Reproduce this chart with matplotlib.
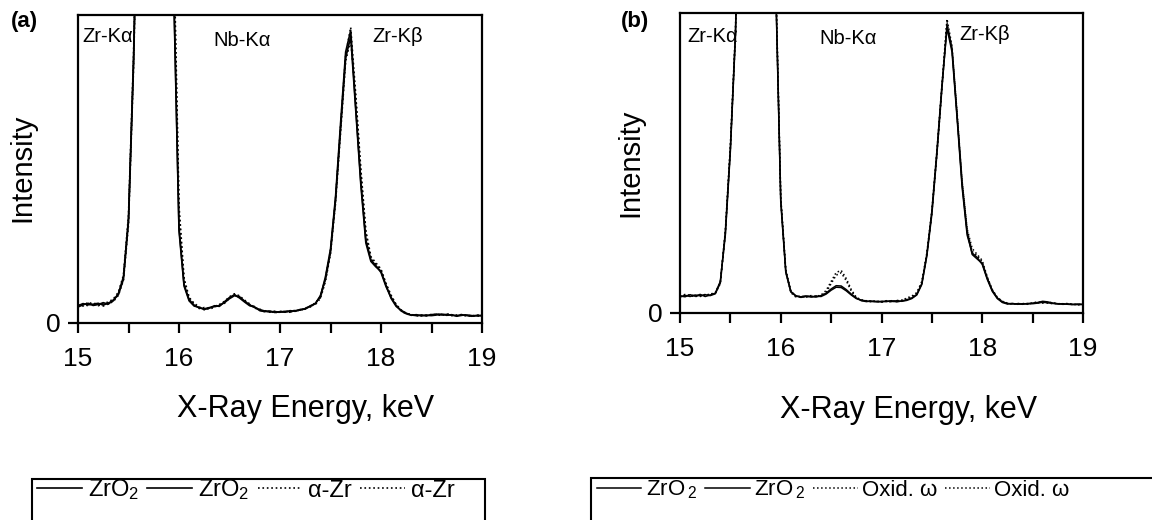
import numpy as np
import matplotlib
matplotlib.use("Agg")
import matplotlib.pyplot as plt
from matplotlib.patches import Rectangle

plt.rcParams['font.family'] = ['Liberation Sans', 'DejaVu Sans']
plt.rcParams['mathtext.fontset'] = 'custom'
plt.rcParams['mathtext.rm'] = 'Liberation Sans'
plt.rcParams['mathtext.it'] = 'Liberation Sans:italic'
plt.rcParams['mathtext.bf'] = 'Liberation Sans:bold'

# ---------------- data ----------------
energy = np.round(np.linspace(15.0, 19.0, 81), 2)   # keV, 0.05 keV steps
x_ticks = [15, 15.5, 16, 16.5, 17, 17.5, 18, 18.5, 19]
x_ticklabels = ['15', '', '16', '', '17', '', '18', '', '19']

# panel (a)
a_zro2_1 = [5.6, 6.3, 5.9, 6.1, 6.4, 5.8, 6.5, 7.2, 9.6, 15.0,
            34, 86, 160, 230, 285, 300, 290, 250, 185, 106,
            31, 12.5, 7.6, 5.8, 4.9, 4.6, 5.0, 5.3, 5.7, 6.6,
            7.9, 8.9, 8.4, 7.1, 5.9, 5.0, 4.3, 3.9, 3.6, 3.7,
            3.5, 3.8, 3.7, 4.0, 4.2, 4.7, 5.4, 6.4, 8.6, 15.0,
            24, 41, 65, 88, 95, 70, 46, 27, 20.5, 18.6,
            16.4, 11.8, 8.3, 5.7, 3.9, 3.0, 2.6, 2.4, 2.6, 2.3,
            2.7, 2.9, 2.6, 2.8, 2.5, 2.4, 2.7, 2.4, 2.2, 2.5,
            2.3]
a_zro2_2 = [5.2, 5.9, 6.4, 5.7, 6.0, 6.6, 6.1, 7.5, 9.2, 14.2,
            33, 84, 158, 228, 282, 298, 288, 248, 182, 104,
            30, 12.0, 7.2, 5.5, 5.1, 4.4, 4.8, 5.6, 5.4, 6.9,
            8.3, 9.2, 8.1, 6.8, 5.6, 5.2, 4.0, 3.7, 3.9, 3.4,
            3.7, 3.5, 4.0, 3.8, 4.4, 4.5, 5.6, 6.2, 8.9, 14.2,
            23, 40, 63, 86, 93, 69, 45, 26, 20.0, 18.2,
            16.8, 12.2, 8.0, 5.4, 4.1, 3.2, 2.5, 2.7, 2.3, 2.6,
            2.4, 2.6, 2.9, 2.5, 2.7, 2.2, 2.5, 2.6, 2.4, 2.3,
            2.5]
a_azr_1 = [6.0, 5.5, 6.7, 6.2, 5.6, 6.3, 6.8, 7.8, 10.0, 15.5,
           35, 87, 162, 232, 287, 302, 295, 258, 195, 120,
           38, 14.5, 8.4, 6.1, 4.7, 5.0, 4.5, 5.1, 6.0, 7.0,
           8.5, 9.5, 8.8, 7.4, 6.2, 4.8, 4.5, 3.6, 3.8, 3.3,
           3.8, 3.6, 3.5, 4.2, 4.0, 4.9, 5.2, 6.6, 8.2, 14.5,
           23.5, 40, 64, 87, 96, 74, 50, 30, 21.5, 19.5,
           17.5, 12.8, 9.0, 6.0, 4.2, 3.1, 2.8, 2.3, 2.5, 2.4,
           2.8, 2.6, 2.5, 3.0, 2.6, 2.3, 2.8, 2.5, 2.1, 2.6,
           2.4]
a_azr_2 = [5.4, 6.1, 5.6, 6.5, 6.0, 5.5, 6.2, 7.0, 9.0, 14.0,
           32, 83, 155, 225, 280, 296, 292, 255, 190, 115,
           36, 13.8, 8.0, 6.4, 5.2, 4.3, 4.9, 5.4, 5.9, 6.4,
           8.1, 9.0, 8.6, 7.0, 6.0, 5.3, 4.1, 4.0, 3.5, 3.8,
           3.4, 3.9, 3.6, 3.9, 4.3, 4.6, 5.5, 6.0, 8.0, 13.5,
           22.5, 39, 62, 85, 92, 73, 49, 29, 21.0, 19.0,
           17.0, 12.5, 8.7, 5.9, 4.0, 2.9, 2.7, 2.5, 2.4, 2.5,
           2.5, 2.8, 2.7, 2.6, 2.4, 2.6, 2.5, 2.3, 2.5, 2.2,
           2.4]

# panel (b)
b_zro2_1 = [5.3, 5.9, 5.5, 6.0, 5.7, 6.1, 5.8, 6.4, 10.0, 27,
            55, 93, 160, 230, 285, 300, 290, 250, 185, 110,
            38, 14, 7.2, 5.6, 5.4, 5.7, 5.3, 5.6, 5.5, 6.3,
            7.6, 8.6, 8.5, 7.4, 6.0, 4.8, 4.3, 4.0, 3.8, 3.9,
            3.7, 4.0, 3.8, 4.1, 3.9, 4.2, 4.8, 6.0, 9.5, 19,
            33, 53, 75, 96, 88, 66, 43, 27, 19.5, 18.0,
            16.5, 11.5, 7.5, 5.0, 3.7, 3.2, 3.0, 3.1, 2.9, 3.2,
            3.1, 3.3, 3.6, 3.4, 3.2, 3.0, 3.1, 2.9, 2.8, 3.0,
            2.8]
b_zro2_2 = [5.7, 5.4, 6.1, 5.6, 6.2, 5.5, 6.0, 6.6, 10.5, 26,
            54, 92, 158, 228, 283, 298, 288, 248, 183, 109,
            37, 13.5, 7.0, 5.8, 5.2, 5.5, 5.6, 5.3, 5.8, 6.6,
            8.0, 9.1, 9.0, 7.8, 6.3, 5.0, 4.1, 3.8, 4.0, 3.7,
            3.9, 3.8, 4.1, 3.7, 4.0, 4.4, 5.0, 6.2, 9.8, 19.5,
            34, 54, 76, 95, 87, 65, 42, 26, 20.0, 18.5,
            16.2, 11.2, 7.2, 4.8, 3.5, 3.0, 3.2, 2.9, 3.1, 3.0,
            3.3, 3.5, 3.9, 3.7, 3.3, 3.1, 2.9, 3.0, 2.9, 2.8,
            2.9]
b_oxid_1 = [5.5, 6.2, 5.8, 5.4, 6.0, 5.9, 6.3, 6.8, 10.2, 27.5,
            56, 94, 162, 232, 288, 302, 292, 252, 188, 112,
            38.5, 14.5, 6.8, 5.3, 5.7, 5.2, 5.8, 5.5, 6.0, 7.5,
            10.5, 13.5, 14.2, 11.5, 7.8, 5.2, 4.4, 3.9, 4.1, 3.8,
            3.8, 4.1, 3.6, 4.2, 4.1, 5.0, 5.6, 6.8, 10.5, 20,
            34, 54, 76, 98, 89, 66, 44, 28, 21.5, 19.5,
            17.5, 12.0, 7.8, 5.2, 3.9, 3.3, 2.9, 3.2, 3.0, 3.1,
            3.2, 3.4, 3.3, 3.6, 3.4, 3.1, 3.0, 3.2, 2.9, 2.7,
            2.9]
b_oxid_2 = [5.6, 5.8, 6.0, 5.7, 5.5, 6.2, 6.1, 6.5, 9.8, 26.5,
            55, 92, 159, 229, 284, 299, 291, 251, 186, 111,
            38, 13.8, 7.5, 5.5, 5.3, 5.6, 5.4, 5.7, 5.6, 6.8,
            9.8, 12.6, 13.4, 10.8, 7.3, 5.0, 4.2, 4.1, 3.7, 4.0,
            3.6, 3.9, 4.0, 3.8, 4.3, 4.6, 5.3, 6.5, 10.0, 19.5,
            33.5, 53, 75, 97, 88, 67, 44, 27.5, 20.5, 19.0,
            17.0, 11.8, 7.6, 5.1, 3.8, 3.1, 3.1, 3.0, 3.2, 2.9,
            3.4, 3.7, 3.5, 3.3, 3.1, 3.2, 2.9, 3.0, 2.8, 2.9,
            2.8]

labels_a = ['ZrO$_{\\rm 2}$', 'ZrO$_{\\rm 2}$', 'α-Zr', 'α-Zr']
labels_b = ['ZrO$\\,_{\\rm 2}$', 'ZrO$\\,_{\\rm 2}$', 'Oxid. ω', 'Oxid. ω']
peak_labels = ['Zr-Kα', 'Nb-Kα', 'Zr-Kβ']

# ---------------- figure ----------------
W, H = 1152, 520
fig = plt.figure(figsize=(W / 100, H / 100), dpi=100)


def fx(px):
    return px / W


def fy(py):
    return 1 - py / H


def make_axes(left, top, right, bottom):
    return fig.add_axes([fx(left), fy(bottom), fx(right - left), (bottom - top) / H])


def style(ax):
    ax.set_xlim(15, 19)
    ax.set_ylim(0, 100)
    for s in ax.spines.values():
        s.set_linewidth(1.6)
        s.set_color('black')
    ax.set_xticks(x_ticks)
    ax.set_xticklabels(x_ticklabels)
    ax.set_yticks([0])
    ax.set_yticklabels(['0'])
    ax.tick_params(axis='x', direction='out', length=7, width=1.6, pad=10, labelsize=19)
    ax.tick_params(axis='y', direction='out', length=7.5, width=1.6, pad=5, labelsize=19)


series_a = [(a_zro2_1, '-'), (a_zro2_2, '-'), (a_azr_1, ':'), (a_azr_2, ':')]
series_b = [(b_zro2_1, '-'), (b_zro2_2, '-'), (b_oxid_1, ':'), (b_oxid_2, ':')]

ax_a = make_axes(78, 15, 482, 323)
ax_b = make_axes(680, 13, 1083, 313)

handles_a = []
for vals, ls in series_a:
    ln, = ax_a.plot(energy, vals, color='black', lw=1.2, ls=ls)
    handles_a.append(ln)
handles_b = []
for vals, ls in series_b:
    ln, = ax_b.plot(energy, vals, color='black', lw=1.1, ls=ls)
    handles_b.append(ln)

style(ax_a)
style(ax_b)

# y labels
fig.text(fx(22), fy(168), 'Intensity', rotation=90, ha='center', va='center', fontsize=21)
fig.text(fx(630), fy(163), 'Intensity', rotation=90, ha='center', va='center', fontsize=21)

# x labels
fig.text(fx(306), fy(417), 'X-Ray Energy, keV', ha='center', va='baseline', fontsize=22)
fig.text(fx(909), fy(418), 'X-Ray Energy, keV', ha='center', va='baseline', fontsize=22)

# panel letters
fig.text(fx(11), fy(22), '(a)', fontsize=16, fontweight='bold', ha='left', va='center')
fig.text(fx(621), fy(22), '(b)', fontsize=16, fontweight='bold', ha='left', va='center')

# peak annotations
for (px, py), t in zip([(82, 37), (213, 40), (372, 36)], peak_labels):
    fig.text(fx(px), fy(py), t, fontsize=14.5, ha='left', va='center')
for (px, py), t in zip([(687, 36), (819, 38), (959, 35)], peak_labels):
    fig.text(fx(px), fy(py), t, fontsize=14.5, ha='left', va='center')

# legends
fig.legend(handles_a, labels_a, ncol=4, frameon=False, fontsize=17,
           loc='center left', bbox_to_anchor=(fx(37), fy(490)),
           borderpad=0, borderaxespad=0, handlelength=1.9,
           handletextpad=0.25, columnspacing=0.35)
fig.patches.append(Rectangle((fx(32), fy(540)), fx(485 - 32), (540 - 479) / H,
                             transform=fig.transFigure, fill=False,
                             edgecolor='black', linewidth=1.5))

fig.legend(handles_b, labels_b, ncol=4, frameon=False, fontsize=16,
           loc='center left', bbox_to_anchor=(fx(597), fy(490)),
           borderpad=0, borderaxespad=0, handlelength=2.0,
           handletextpad=0.2, columnspacing=0.35)
fig.patches.append(Rectangle((fx(591), fy(540)), fx(1170 - 591), (540 - 478) / H,
                             transform=fig.transFigure, fill=False,
                             edgecolor='black', linewidth=1.5))

fig.savefig('out.png', dpi=100)
